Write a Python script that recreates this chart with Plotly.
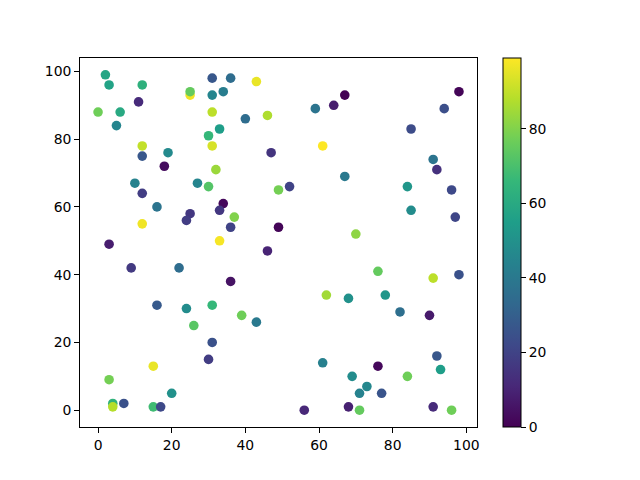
import plotly.graph_objects as go

# scatter values (x, y, colour value)
x_vals = [2, 3, 12, 31, 36, 43, 25, 25, 31, 34, 11, 0, 6, 31, 46, 40, 5, 33, 30, 12,
          31, 12, 19, 47, 18, 32, 10, 27, 30, 49, 12, 16, 34, 33, 37, 25, 24, 36, 49, 12,
          33, 59, 64, 67, 61, 67, 52, 70, 98, 94, 85, 91, 92, 84, 96, 85, 97, 3, 46, 9,
          22, 36, 16, 24, 31, 39, 43, 26, 31, 30, 15, 3, 20, 4, 4, 7, 15, 17, 76, 91,
          98, 62, 68, 78, 82, 90, 61, 76, 92, 93, 69, 84, 73, 71, 77, 56, 68, 71, 91, 96]
y_vals = [99, 96, 96, 98, 98, 97, 93, 94, 93, 94, 91, 88, 88, 88, 87, 86, 84, 83, 81, 78,
          78, 75, 76, 76, 72, 71, 67, 67, 66, 65, 64, 60, 61, 59, 57, 58, 56, 54, 54, 55,
          50, 89, 90, 93, 78, 69, 66, 52, 94, 89, 83, 74, 71, 66, 65, 59, 57, 49, 47, 42,
          42, 38, 31, 30, 31, 28, 26, 25, 20, 15, 13, 9, 5, 2, 1, 2, 1, 1, 41, 39,
          40, 34, 33, 34, 29, 28, 14, 13, 16, 12, 10, 10, 7, 5, 5, 0, 1, 0, 1, 0]
c_vals = [58, 57, 63, 27, 35, 96, 97, 75, 45, 42, 12, 77, 60, 89, 87, 35, 45, 55, 66, 90,
          93, 27, 47, 15, 3, 84, 44, 45, 72, 78, 18, 38, 2, 16, 80, 16, 18, 20, 1, 97,
          98, 38, 8, 0, 99, 40, 20, 82, 1, 24, 23, 38, 14, 52, 22, 48, 21, 8, 10, 17,
          35, 5, 28, 48, 66, 77, 40, 73, 25, 18, 96, 78, 50, 64, 88, 25, 68, 22, 75, 89,
          25, 85, 50, 52, 36, 7, 43, 2, 27, 55, 48, 77, 46, 44, 26, 11, 9, 75, 12, 77]
tick_vals = [0, 20, 40, 60, 80, 100]
cbar_ticks = [0, 20, 40, 60, 80]

font = dict(family="DejaVu Sans", size=13.9, color="black")

fig = go.Figure()
fig.add_trace(go.Scatter(
    x=x_vals, y=y_vals, mode="markers",
    marker=dict(
        size=9.6, color=c_vals, colorscale="Viridis", cmin=0, cmax=99,
        line=dict(width=0),
        showscale=True,
        colorbar=dict(
            x=1.0655, xanchor="left", y=0.5, yanchor="middle", len=1, lenmode="fraction",
            xpad=0, ypad=0,
            thickness=18, outlinewidth=1, outlinecolor="black",
            tickvals=cbar_ticks, ticks="outside", ticklen=4.9, tickwidth=1,
            tickcolor="black", tickfont=font,
        ),
    ),
    hoverinfo="skip",
))

axis_style = dict(
    tickvals=tick_vals, ticks="outside", ticklen=4.9, tickwidth=1, tickcolor="black",
    showline=True, linecolor="black", linewidth=1, mirror=True,
    showgrid=False, zeroline=False, tickfont=font,
)
fig.update_xaxes(range=[-4.9, 102.9], **axis_style)
fig.update_yaxes(range=[-4.95, 103.95], **axis_style)

# page body adds an 8px margin, so the figure is 8px smaller and shifted
fig.update_layout(
    width=632, height=472,
    margin=dict(l=72, r=163, t=49.6, b=52.8),
    plot_bgcolor="white", paper_bgcolor="white",
    showlegend=False, font=font,
)

fig.write_html("out.html")
